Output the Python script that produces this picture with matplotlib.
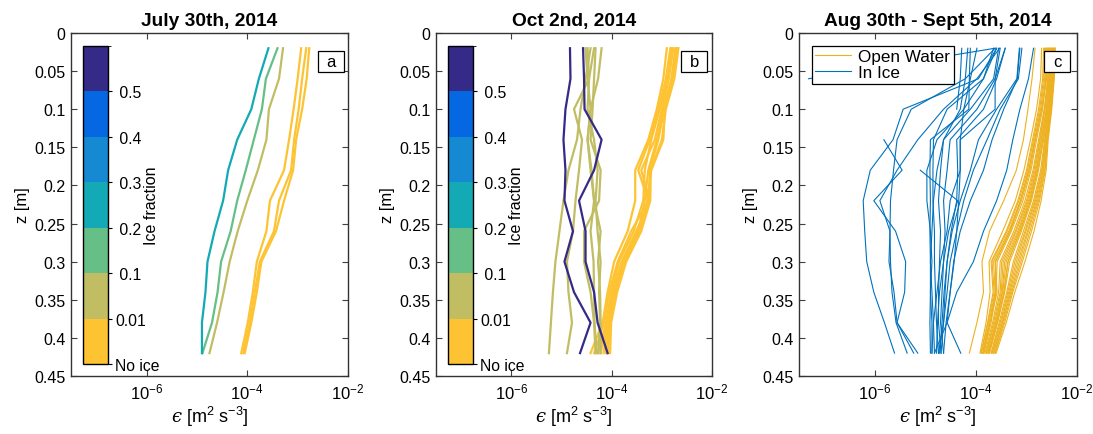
import numpy as np
import matplotlib
matplotlib.use('Agg')
import matplotlib.pyplot as plt
from matplotlib.colors import ListedColormap, BoundaryNorm
from matplotlib.cm import ScalarMappable
from matplotlib.patches import Rectangle
from matplotlib.ticker import FuncFormatter, NullLocator

plt.rcParams['font.family'] = ['Liberation Sans', 'DejaVu Sans']
plt.rcParams['mathtext.fontset'] = 'custom'
plt.rcParams['mathtext.rm'] = 'Liberation Sans'
plt.rcParams['mathtext.it'] = 'DejaVu Serif:italic'
plt.rcParams['mathtext.bf'] = 'Liberation Sans:bold'

nan = np.nan

# depth of each estimate [m]
z = [0.02, 0.06, 0.10, 0.14, 0.18, 0.22, 0.26, 0.30, 0.34, 0.38, 0.42]

# all profiles below are log10(epsilon)
# panel a, July 30th
a_teal = [-3.58, -3.77, -3.92, -4.20, -4.38, -4.48, -4.65, -4.79, -4.83, -4.90, -4.90]
a_green = [-3.40, -3.63, -3.71, -3.87, -4.03, -4.20, -4.33, -4.52, -4.59, -4.70, -4.89]
a_olive = [-3.29, -3.37, -3.57, -3.62, -3.79, -4.00, -4.19, -4.35, -4.47, -4.60, -4.75]
a_open = [
    [-2.93, -3.00, -3.08, -3.17, -3.27, -3.55, -3.62, -3.81, -3.89, -3.99, -4.12],
    [-2.83, -2.91, -2.98, -3.07, -3.13, -3.37, -3.47, -3.75, -3.85, -3.95, -4.08],
    [-2.77, -2.82, -2.91, -3.03, -3.09, -3.27, -3.43, -3.72, -3.81, -3.92, -4.05],
]

# panel b, Oct 2nd
b_navy = [
    [-4.83, -4.82, -4.92, -4.96, -4.92, -4.94, -4.77, -4.94, -4.75, -4.42, -4.63],
    [-4.57, -4.55, -4.54, -4.20, -4.35, -4.65, -4.52, -4.52, -4.35, -4.28, -4.08],
]
b_olive = [
    [-4.42, -4.52, -4.62, -4.69, -4.86, -4.96, -5.04, -5.12, -5.17, -5.21, -5.25],
    [-4.35, -4.45, -4.75, -4.59, -4.65, -4.72, -4.77, -4.89, -4.86, -4.79, -4.89],
    [-4.52, -4.48, -4.42, -4.48, -4.40, -4.35, -4.42, -4.36, -4.35, -4.34, -4.30],
    [-4.48, -4.45, -4.48, -4.35, -4.28, -4.32, -4.28, -4.22, -4.25, -4.23, -4.27],
    [-4.32, -4.35, -4.38, -4.42, -4.22, -4.25, -4.55, -4.55, -4.42, -4.35, -4.32],
    [-4.20, -4.27, -4.42, -4.48, -4.42, -4.35, -4.22, -4.27, -4.23, -4.22, -4.22],
]
b_open = [
    [-2.90, -2.97, -3.10, -3.27, -3.53, -3.53, -3.68, -3.95, -4.08, -4.18, -4.42],
    [-2.83, -2.92, -3.07, -3.24, -3.47, -3.27, -3.61, -3.88, -4.05, -4.15, -4.35],
    [-2.80, -2.88, -3.04, -3.21, -3.34, -3.37, -3.56, -3.85, -4.01, -4.11, -4.27],
    [-2.77, -2.86, -3.00, -3.14, -3.41, -3.24, -3.51, -3.80, -3.98, -4.09, -4.22],
    [-2.73, -2.81, -2.97, -3.10, -3.27, -3.34, -3.47, -3.78, -3.96, -4.07, -4.16],
    [-2.70, -2.79, -2.95, -3.07, -3.24, -3.26, -3.44, -3.74, -3.93, -4.05, -4.11],
    [-2.68, -2.77, -2.94, -2.97, -3.21, -3.29, -3.42, -3.73, -3.91, -4.03, -4.07],
    [-2.67, -2.75, -2.92, -3.00, -3.22, -3.23, -3.41, -3.71, -3.89, -4.01, -4.03],
]

# panel c, Aug 30th - Sept 5th
c_open = [
    [-2.83, -2.89, -2.97, -3.06, -3.20, -3.45, -3.73, -3.88, -3.85, -3.98, -4.13],
    [-2.70, -2.72, -2.80, -2.92, -3.05, -3.22, -3.47, -3.74, -3.72, -3.80, -3.92],
    [-2.66, -2.68, -2.76, -2.88, -3.00, -3.17, -3.40, -3.70, -3.66, -3.77, -3.90],
    [-2.64, -2.66, -2.74, -2.86, -2.98, -3.15, -3.38, -3.68, -3.64, -3.76, -3.89],
    [-2.62, -2.64, -2.72, -2.84, -2.95, -3.12, -3.35, -3.65, -3.62, -3.74, -3.87],
    [-2.61, -2.62, -2.70, -2.82, -2.93, -3.10, -3.32, -3.61, -3.61, -3.72, -3.85],
    [-2.60, -2.61, -2.68, -2.80, -2.91, -3.07, -3.30, -3.58, -3.60, -3.70, -3.84],
    [-2.58, -2.60, -2.70, -2.83, -2.96, -3.12, -3.33, -3.62, -3.58, -3.72, -3.86],
    [-2.57, -2.58, -2.65, -2.76, -2.87, -3.03, -3.25, -3.52, -3.55, -3.67, -3.82],
    [-2.56, -2.57, -2.64, -2.74, -2.85, -3.00, -3.22, -3.49, -3.52, -3.65, -3.80],
    [-2.55, -2.56, -2.63, -2.73, -2.83, -2.98, -3.20, -3.46, -3.50, -3.63, -3.79],
    [-2.54, -2.55, -2.61, -2.71, -2.81, -2.96, -3.17, -3.43, -3.48, -3.61, -3.77],
    [-2.53, -2.54, -2.60, -2.70, -2.80, -2.94, -3.15, -3.40, -3.47, -3.60, -3.76],
    [-2.52, -2.53, -2.59, -2.68, -2.78, -2.92, -3.13, -3.36, -3.44, -3.58, -3.74],
    [-2.51, -2.52, -2.58, -2.67, -2.76, -2.90, -3.10, -3.33, -3.43, -3.57, -3.73],
    [-2.50, -2.51, -2.57, -2.66, -2.78, -2.92, -3.12, -3.37, -3.45, -3.58, -3.74],
    [-2.49, -2.50, -2.56, -2.64, -2.72, -2.86, -3.06, -3.26, -3.39, -3.54, -3.70],
    [-2.48, -2.49, -2.55, -2.63, -2.70, -2.84, -3.03, -3.23, -3.37, -3.52, -3.69],
    [-2.47, -2.48, -2.54, -2.62, -2.69, -2.82, -3.01, -3.20, -3.35, -3.50, -3.68],
    [-2.46, -2.47, -2.53, -2.61, -2.67, -2.80, -2.98, -3.17, -3.33, -3.48, -3.66],
    [-2.45, -2.47, -2.52, -2.60, -2.66, -2.78, -2.96, -3.14, -3.31, -3.47, -3.65],
    [-2.44, -2.46, -2.51, -2.59, -2.64, -2.76, -2.93, -3.11, -3.29, -3.45, -3.63],
    [-2.44, -2.46, -2.51, -2.58, -2.63, -2.74, -2.90, -3.08, -3.27, -3.43, -3.62],
    [-2.43, -2.45, -2.50, -2.57, -2.61, -2.71, -2.85, -3.03, -3.23, -3.40, -3.60],
]
c_ice = [
    [-3.62, -7.31, nan, nan, nan, nan, nan, nan, nan, nan, nan],
    [-3.59, -3.95, -5.44, -5.64, -6.09, -6.23, -6.20, -6.16, -6.02, -5.81, -5.61],
    [-3.62, -4.21, -5.28, -5.56, -5.63, -5.69, -5.70, -5.69, -5.66, -5.58, -5.36],
    [nan, nan, nan, -5.82, -5.46, -6.02, -5.59, -5.39, -5.41, -5.56, -5.23],
    [-3.53, -3.98, -4.64, -5.15, -5.56, -5.90, -5.70, -5.72, -5.62, -5.56, -5.15],
    [nan, nan, nan, nan, -5.10, -4.36, -4.54, -4.64, -4.72, -4.76, -4.78],
    [-4.28, -4.31, -4.38, nan, nan, nan, nan, nan, nan, nan, nan],
    [-4.16, -4.21, -4.31, -4.64, -4.77, -4.84, -4.87, -4.90, -4.90, -4.87, -4.87],
    [-4.11, -4.13, -4.14, -4.90, -4.91, -4.90, -4.91, -4.90, -4.87, -4.84, -4.82],
    [-3.59, -3.85, -4.57, -4.84, -4.85, -4.85, -4.82, -4.82, -4.80, -4.78, -4.74],
    [-3.55, -3.65, -4.11, -4.64, -4.70, -4.74, -4.70, -4.72, -4.74, -4.74, -4.69],
    [-3.52, -3.62, -3.98, -4.51, -4.57, -4.64, -4.61, -4.64, -4.67, -4.70, -4.64],
    [-3.42, -3.59, -3.85, -4.38, -4.36, -4.38, -4.49, -4.57, -4.63, -4.67, -4.72],
    [-3.42, -3.62, -3.62, -4.31, -4.31, -4.51, -4.57, -4.70, -4.77, -4.84, -4.87],
    [-3.14, -3.19, -3.59, -3.95, -4.11, -4.31, -4.47, -4.57, -4.61, -4.64, -4.69],
    [-3.09, -3.16, -3.52, -3.78, -4.05, -4.24, -4.38, -4.51, -4.57, -4.64, -4.74],
    [-3.13, -3.18, -3.45, -3.68, -3.85, -4.11, -4.31, -4.44, -4.51, -4.59, -4.64],
    [-2.86, -2.96, -3.13, -3.27, -3.39, -3.59, -3.85, -4.05, -4.38, -4.57, -4.30],
    [-3.65, -3.85, -4.24, -4.77, -4.97, -4.97, -4.90, -4.87, -4.90, -4.91, -4.90],
    [-3.98, -4.11, -4.24, -4.31, -4.31, -4.34, -4.38, -4.43, -4.51, -4.57, -4.82],
]

titles = ['July 30th, 2014', 'Oct 2nd, 2014', 'Aug 30th - Sept 5th, 2014']
panel_letters = ['a', 'b', 'c']
yticks = [0, 0.05, 0.1, 0.15, 0.2, 0.25, 0.3, 0.35, 0.4, 0.45]
ice_labels = ['No ice', '0.01', ' 0.1', ' 0.2', ' 0.3', ' 0.4', ' 0.5']

# parula-like ice colours, from no ice up to > 0.5
ice_colors = ['#FDC332', '#C1BD63', '#66BF86', '#13AAB6', '#1589D1', '#0567E1', '#352A87']
open_c = '#EDB120'
inice_c = '#0072BD'

fig = plt.figure(figsize=(10.93, 4.35), dpi=100)
W, H = 1093, 435
lefts = [71, 436, 799]
widths = [277, 276, 278]
axs = [fig.add_axes([l / W, 58 / H, w / W, 343 / H]) for l, w in zip(lefts, widths)]


def setup(ax, title):
    ax.set_xscale('log')
    ax.set_xlim(10 ** -7.5, 1e-2)
    ax.set_ylim(0.45, 0)
    ax.set_xticks([1e-6, 1e-4, 1e-2])
    ax.xaxis.set_minor_locator(NullLocator())
    ax.set_yticks(yticks)
    ax.yaxis.set_major_formatter(FuncFormatter(lambda v, p: f'{v:g}'))
    ax.tick_params(direction='in', top=True, right=True, length=4, width=0.8,
                   labelsize=11.5, color='0.25', pad=4)
    ax.tick_params(axis='x', labelsize=12)
    for s in ax.spines.values():
        s.set_linewidth(1.0)
        s.set_color('0.2')
    ax.set_title(title, fontweight='bold', fontsize=13.8, pad=6)
    ax.set_ylabel('z [m]', fontsize=12, labelpad=3)
    ax.set_xlabel('$\u03f5$ [m$^2$ s$^{-3}$]', fontsize=13, labelpad=2)


def letter_box(ax, s, x0):
    ax.add_patch(Rectangle((x0, 0.886), 0.094, 0.062, transform=ax.transAxes,
                           fc='white', ec='black', lw=0.9, zorder=5))
    ax.text(x0 + 0.047, 0.917, s, transform=ax.transAxes, ha='center', va='center',
            fontsize=12, zorder=6)


cmap = ListedColormap(ice_colors)
norm = BoundaryNorm(range(8), 7)


def ice_bar(ax):
    x0 = ax.get_position().x0
    cax = fig.add_axes([x0 + 12 / W, 70 / H, 25 / W, 318 / H])
    cb = fig.colorbar(ScalarMappable(norm=norm, cmap=cmap), cax=cax, ticks=range(7))
    cb.ax.set_yticklabels(ice_labels)
    cb.ax.tick_params(length=3, width=0.8, labelsize=11.3, pad=2)
    cb.outline.set_linewidth(1.0)
    cax.text(2.76, 0.5, 'Ice fraction', transform=cax.transAxes, rotation=90,
             ha='center', va='center', fontsize=11.5)


def prof(ax, vals, color, lw, label=None):
    ax.plot(10 ** np.array(vals), z, color=color, lw=lw, label=label)


# panel a
ax = axs[0]
for p in a_open:
    prof(ax, p, ice_colors[0], 1.6)
prof(ax, a_olive, ice_colors[1], 1.6)
prof(ax, a_green, ice_colors[2], 1.6)
prof(ax, a_teal, ice_colors[3], 1.6)

# panel b
ax = axs[1]
for p in b_open:
    prof(ax, p, ice_colors[0], 1.6)
for p in b_olive:
    prof(ax, p, ice_colors[1], 1.6)
for p in b_navy:
    prof(ax, p, ice_colors[6], 1.6)

# panel c
ax = axs[2]
for i, p in enumerate(c_open):
    prof(ax, p, open_c, 0.8, 'Open Water' if i == 0 else None)
for i, p in enumerate(c_ice):
    prof(ax, p, inice_c, 0.8, 'In Ice' if i == 0 else None)
leg = ax.legend(loc='upper left', bbox_to_anchor=(0.047, 0.962), borderaxespad=0,
                fontsize=12.3, handlelength=2.1, handletextpad=0.4, labelspacing=0.05,
                borderpad=0.2, fancybox=False, framealpha=1, edgecolor='black')
leg.get_frame().set_linewidth(0.9)

for ax, t, s, x0 in zip(axs, titles, panel_letters, [0.892, 0.888, 0.881]):
    setup(ax, t)
    letter_box(ax, s, x0)

ice_bar(axs[0])
ice_bar(axs[1])

fig.savefig('out.png', dpi=100)
